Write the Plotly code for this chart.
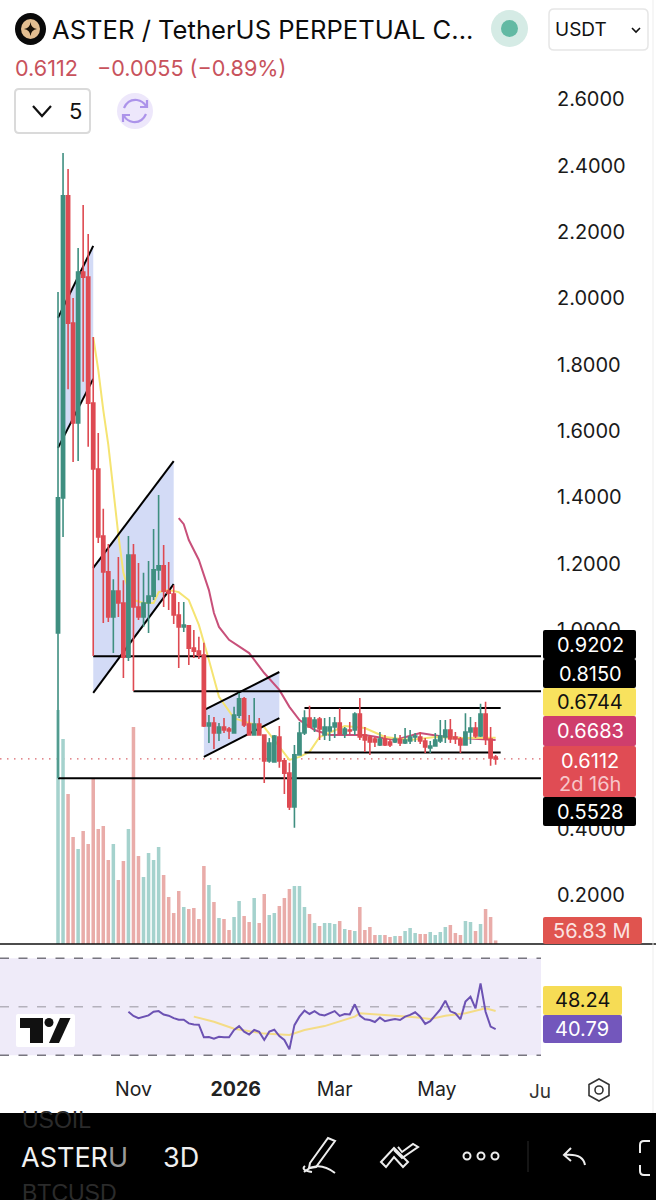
import pandas as pd
import plotly.graph_objects as go

W, H = 656, 1200

# ---------- data ----------
start_date = "2025-09-17"
bar_count = 88
opens = [.991,1.398,2.309,1.925,1.624,2.079,2.064,1.684,1.485,1.283,1.175,1.039,1.117,1.081,.918,1.226,1.069,1.039,1.081,1.102,
         1.181,1.193,1.117,1.108,1.045,1.009,1.012,.945,.936,.924,.710,.719,.689,.707,.701,.689,.743,.792,.716,.683,
         .716,.683,.605,.602,.677,.605,.568,.466,.623,.689,.734,.707,.731,.683,.695,.707,.719,.686,.698,.698,
         .746,.683,.677,.671,.653,.671,.662,.662,.671,.659,.665,.677,.677,.665,.644,.650,.665,.677,.698,.677,
         .671,.653,.692,.704,.680,.746,.671,.6167]
highs = [2.019,2.438,2.390,2.001,2.152,2.281,2.194,1.883,1.594,1.365,1.259,1.153,1.220,1.150,1.283,1.259,1.202,1.172,1.208,1.304,
         1.407,1.256,1.205,1.135,1.084,1.084,1.015,.9997,.979,.961,.743,.737,.719,.734,.707,.768,.810,.798,.743,.795,
         .734,.683,.674,.683,.710,.614,.599,.653,.722,.758,.771,.737,.737,.734,.737,.737,.764,.707,.722,.752,
         .795,.707,.683,.677,.692,.683,.671,.686,.683,.704,.698,.689,.692,.674,.665,.689,.728,.728,.731,.692,
         .677,.749,.737,.722,.777,.783,.707,.623]
lows = [.553,1.280,1.726,1.506,1.509,1.748,1.552,.921,1.262,1.021,1.024,.930,1.039,.855,.906,.816,1.030,1.009,.991,1.090,
        1.150,1.069,1.060,1.018,.885,.994,.894,.915,.912,.707,.659,.641,.665,.689,.671,.689,.734,.707,.683,.683,
        .683,.538,.599,.599,.584,.505,.457,.403,.623,.683,.704,.692,.668,.668,.665,.674,.683,.674,.686,.683,
        .668,.632,.623,.647,.650,.650,.647,.659,.650,.656,.656,.662,.656,.629,.629,.650,.659,.659,.659,.656,
        .629,.653,.656,.674,.677,.653,.590,.593]
closes = [1.398,2.309,1.925,1.624,2.079,2.064,1.684,1.485,1.280,1.175,1.039,1.117,1.081,.918,1.226,1.069,1.039,1.081,1.102,1.181,
          1.193,1.117,1.111,1.045,1.009,1.015,.945,.936,.924,.710,.719,.689,.707,.698,.695,.743,.792,.713,.683,.716,
          .683,.605,.659,.680,.605,.568,.466,.623,.689,.734,.707,.728,.701,.707,.707,.719,.686,.701,.695,.746,
          .677,.668,.662,.662,.671,.653,.653,.671,.659,.668,.677,.680,.665,.647,.650,.668,.680,.698,.671,.671,
          .653,.692,.704,.680,.746,.671,.614,.6112]
volumes_m = [3744,3280,2400,1712,1520,1808,1600,2656,1840,1888,1344,1600,1024,1328,1840,3472,1408,1072,1456,1344,
             1552,1104,752,496,848,592,560,576,400,1248,944,672,416,400,224,432,688,448,352,736,
             336,800,464,496,608,736,880,928,928,592,480,336,288,336,336,320,368,240,224,208,
             592,224,272,144,144,144,112,128,128,208,256,176,160,160,192,144,192,272,304,176,
             144,368,352,208,320,560,432,56.83]

ema_fast_idx = [7,8,9,10,11,12,13,14,15,17,19,20,22,24,26,28,30,32,35,38,41,43,46,48,50,52,57,61,65,70,75,80,87]
ema_fast = [1.883,1.784,1.663,1.558,1.422,1.286,1.172,1.120,1.090,1.081,1.081,1.114,1.120,1.114,1.090,1.015,.909,.798,.734,.719,
            .707,.668,.608,.617,.632,.677,.710,.704,.677,.668,.677,.674,.6744]
ema_slow_idx = [24,25,26,28,30,31,32,34,38,41,44,46,48,51,54,61,67,72,77,80,87]
ema_slow = [1.337,1.319,1.271,1.211,1.120,1.051,1.009,.970,.930,.870,.819,.768,.728,.698,.683,.683,.668,.689,.677,.674,.6683]

rsi_start = 14
rsi_values = [47.9,46.2,45.3,45.9,46.4,47.9,48.2,46.8,46.3,45.3,44.6,44.6,43.1,42.7,42.6,37.4,37.5,36.8,37.6,37.4,
              37.4,40.4,42.0,39.7,38.5,40.4,39.6,36.3,39.7,40.5,37.9,36.3,32.4,42.4,45.9,48.4,47.0,48.2,46.8,46.4,
              47.3,48.2,46.2,47.0,46.8,51.0,46.3,44.8,44.5,43.7,45.5,44.0,44.5,44.9,44.5,45.9,46.6,47.7,45.9,42.9,
              44.0,46.6,48.9,52.5,48.1,47.3,44.8,52.1,54.1,49.3,59.6,47.9,41.8,40.79]
rsi_ma_idx = [27,31,35,39,41,46,49,53,56,59,60,63,67,71,74,77,81,85,87]
rsi_ma = [45.9,43.8,40.9,39.7,38.9,38.3,40.4,42.0,44.1,45.9,47.3,47.0,46.3,45.6,44.9,46.3,47.3,49.3,48.24]

# channels: (left bar, right bar, upper-left, upper-right, lower-left, lower-right)
channels = [(0,7,1.941,2.158,1.549,1.757),(7,23,1.187,1.509,.810,1.138),(29,44,.758,.873,.617,.734)]
level_lines = [(7,.9202),(15,.8150),(0,.5528)]
range_lines = [(49,.7645),(49,.630)]
range_end_bar = 88
last_price = .6112

price_ticks = [.2,.4,.6,.8,1.0,1.2,1.4,1.6,1.8,2.0,2.2,2.4,2.6]
date_ticks = ["2025-11-01","2026-01-01","2026-03-01","2026-05-01"]
date_labels = ["Nov","<b>2026</b>","Mar","May"]

# ---------- colours ----------
TEAL, RED = "#3F8F80", "#DE4A52"
VOL_T, VOL_R = "#A5D2CD", "#E9ACA9"
FILL = "#D3DBF6"
YEL, PINK, PUR = "#F6E36B", "#C8436E", "#6C52B3"

FONT = "Inter"
PLOT_R = 541 / W


def fx(x):
    return x / W


def fy(y):
    return 1 - y / H


def path(*cmds):
    out = []
    for c in cmds:
        letter, *vals = c
        pts = [f"{fx(vals[i]):.5f},{fy(vals[i+1]):.5f}" for i in range(0, len(vals), 2)]
        out.append(letter + " ".join(pts))
    return " ".join(out)


def rrect(x0, y0, x1, y1, r=3):
    return path(("M", x0 + r, y0), ("L", x1 - r, y0), ("Q", x1, y0, x1, y0 + r), ("L", x1, y1 - r),
                ("Q", x1, y1, x1 - r, y1), ("L", x0 + r, y1), ("Q", x0, y1, x0, y1 - r), ("L", x0, y0 + r),
                ("Q", x0, y0, x0 + r, y0), ("Z",))


shapes, annots = [], []


def sh_path(d, fill="rgba(0,0,0,0)", line="rgba(0,0,0,0)", w=0):
    shapes.append(dict(type="path", xref="paper", yref="paper", path=d, fillcolor=fill,
                       line=dict(color=line, width=w), layer="above"))


def sh_ell(x0, y0, x1, y1, fill="rgba(0,0,0,0)", line="rgba(0,0,0,0)", w=0):
    shapes.append(dict(type="circle", xref="paper", yref="paper", x0=fx(x0), x1=fx(x1), y0=fy(y0), y1=fy(y1),
                       fillcolor=fill, line=dict(color=line, width=w), layer="above"))


def txt(x, y, s, size=20, color="#000", anchor="left", family=FONT):
    annots.append(dict(xref="paper", yref="paper", x=fx(x), y=fy(y), text=s, showarrow=False, xanchor=anchor,
                       yanchor="middle", font=dict(size=size, color=color, family=family), borderpad=0, borderwidth=0))


# ---------- chart ----------
dates = pd.date_range(start_date, periods=bar_count, freq="3D")
base = pd.Timestamp(start_date)
day = lambda i: base + pd.Timedelta(days=3 * i)
x_lo = base + pd.Timedelta(days=-34.6)
x_hi = base + pd.Timedelta(days=288.06)
y_lo, y_hi = (961.5 - 944) / 331.6, (961.5 - 60) / 331.6

fig = go.Figure()

# layer order: volume, then drawings and averages, then candles on top
vol_colors = [VOL_T if c >= o else VOL_R for o, c in zip(opens, closes)]
fig.add_trace(go.Bar(x=dates, y=volumes_m, marker=dict(color=vol_colors, line=dict(width=0)), xaxis="x", yaxis="y2"))

for l, r, ul, ur, ll, lr in channels:
    fig.add_trace(go.Scatter(x=[day(l), day(r), day(r), day(l), day(l)], y=[ul, ur, lr, ll, ul], mode="lines",
                             fill="toself", fillcolor=FILL, line=dict(width=0), xaxis="x", yaxis="y3", hoverinfo="skip"))

fig.add_trace(go.Scatter(x=[day(i) for i in ema_slow_idx], y=ema_slow, mode="lines", xaxis="x", yaxis="y3",
                         line=dict(color="#C8507A", width=2)))
fig.add_trace(go.Scatter(x=[day(i) for i in ema_fast_idx], y=ema_fast, mode="lines", xaxis="x", yaxis="y3",
                         line=dict(color="#F5E472", width=2)))

for l, r, ul, ur, ll, lr in channels:
    for a, b in ((ul, ur), (ll, lr)):
        fig.add_trace(go.Scatter(x=[day(l), day(r)], y=[a, b], mode="lines", xaxis="x", yaxis="y3",
                                 line=dict(color="#000", width=2)))
for i, p in level_lines:
    fig.add_trace(go.Scatter(x=[day(i), x_hi], y=[p, p], mode="lines", xaxis="x", yaxis="y3",
                             line=dict(color="#000", width=2)))
for i, p in range_lines:
    fig.add_trace(go.Scatter(x=[day(i), day(range_end_bar)], y=[p, p], mode="lines", xaxis="x", yaxis="y3",
                             line=dict(color="#000", width=2)))

fig.add_trace(go.Candlestick(x=dates, open=opens, high=highs, low=lows, close=closes, xaxis="x", yaxis="y5",
                             whiskerwidth=0,
                             increasing=dict(line=dict(color=TEAL, width=1.6), fillcolor=TEAL),
                             decreasing=dict(line=dict(color=RED, width=1.6), fillcolor=RED)))

fig.add_trace(go.Scatter(x=[day(i) for i in rsi_ma_idx], y=rsi_ma, mode="lines", xaxis="x", yaxis="y4",
                         line=dict(color="#F4DC86", width=2)))
fig.add_trace(go.Scatter(x=[day(rsi_start + i) for i in range(len(rsi_values))], y=rsi_values, mode="lines",
                         xaxis="x", yaxis="y4", line=dict(color=PUR, width=2)))

# RSI pane furniture
shapes.append(dict(type="rect", xref="paper", yref="y4", x0=0, x1=PLOT_R, y0=30, y1=70, fillcolor="#EFEBF9",
                   line=dict(width=0), layer="below"))
for v, c in ((70, "#77757F"), (50, "#B4B1BC"), (30, "#77757F")):
    shapes.append(dict(type="line", xref="paper", yref="y4", x0=0, x1=PLOT_R, y0=v, y1=v, layer="below",
                       line=dict(color=c, width=1.5, dash="9px,9.5px")))
# last price dotted line
shapes.append(dict(type="line", xref="paper", yref="y", x0=0, x1=PLOT_R, y0=last_price, y1=last_price, layer="below",
                   line=dict(color="#D9646A", width=1.2, dash="1.5px,5.5px")))
# pane divider
shapes.append(dict(type="line", xref="paper", yref="paper", x0=0, x1=1, y0=fy(944), y1=fy(944), layer="above",
                   line=dict(color="#111", width=1.5)))
# right edge
shapes.append(dict(type="line", xref="paper", yref="paper", x0=fx(653), x1=fx(653), y0=fy(0), y1=fy(1113), layer="above",
                   line=dict(color="#EDEDED", width=1)))

# ---------- price labels ----------
LX0, LX1, LC = 543, 636, 590
for y0, y1, col in ((630, 659, "#000"), (659, 688, "#000"), (688, 716, "#F8E25E"), (716, 746, "#CF3E6C"),
                    (746, 797, "#E04C54"), (797, 826, "#000")):
    sh_path(rrect(LX0, y0, LX1, y1, 2), fill=col)
for y, s, c in ((645, "0.9202", "#fff"), (674, "0.8150", "#fff"), (702, "0.6744", "#111"), (731, "0.6683", "#fff"),
                (761, "0.6112", "#fff"), (784, "2d 16h", "#F7C6C9"), (812, "0.5528", "#fff")):
    txt(LC, y, s, 20, c, "center")

sh_path(rrect(543, 917, 642, 944, 2), fill="#E0544F")
txt(592, 931, "56.83 M", 20, "#FBE3E1", "center")
sh_path(rrect(543, 986, 622, 1015, 2), fill="#F6DC55")
txt(582, 1000, "48.24", 20, "#111", "center")
sh_path(rrect(543, 1015, 622, 1043, 2), fill="#7357BC")
txt(582, 1029, "40.79", 20, "#fff", "center")

# ---------- TradingView logo ----------
sh_path(rrect(16, 1014, 75, 1047, 2), fill="#fff")
sh_path(path(("M", 20, 1018), ("L", 43, 1018), ("L", 43, 1043), ("L", 30, 1043), ("L", 30, 1028), ("L", 20, 1028), ("Z",)),
        fill="#111")
sh_ell(44.5, 1018, 53.5, 1027, fill="#111")
sh_path(path(("M", 60, 1018), ("L", 70.5, 1018), ("L", 59, 1043), ("L", 49, 1043), ("Z",)), fill="#111")

# ---------- header ----------
sh_ell(15, 13, 46, 45, fill="#0A0A0A")
sh_ell(21, 19, 40, 39, fill="#E3BE91")
sh_path(path(("M", 30.5, 22), ("Q", 31, 28, 37, 29), ("Q", 31, 30, 30.5, 36), ("Q", 30, 30, 24, 29), ("Q", 30, 28, 30.5, 22), ("Z",)),
        fill="#1A1208")
txt(52, 29, "ASTER / TetherUS PERPETUAL C...", 25.6, "#0C0C0C")
sh_ell(491, 10, 528, 47, fill="#D5EBE5")
sh_ell(501, 20, 518, 37, fill="#62B9A3")
sh_path(rrect(549, 9, 648, 50, 5), fill="#fff", line="#E6E6E6", w=1.5)
txt(555, 29, "USDT", 19, "#111")
sh_path(path(("M", 632, 28), ("L", 636, 32), ("L", 640, 28)), line="#111", w=1.6)
txt(15, 68, "0.6112", 21.6, "#C8525C")
txt(97, 68, "\u22120.0055 (\u22120.89%)", 21.6, "#C8525C")
sh_path(rrect(15, 89, 90, 133, 4), fill="#fff", line="#DADADA", w=2)
sh_path(path(("M", 33, 106), ("L", 42, 116), ("L", 51, 106)), line="#111", w=2.2)
txt(75, 111, "5", 22, "#111", "center")
sh_ell(117, 93, 153, 129, fill="#EDE7FB")
sh_path(path(("M", 124, 108), ("Q", 128, 99, 137, 100), ("Q", 143, 101, 146, 106)), line="#AC93EA", w=2.2)
sh_path(path(("M", 146, 114), ("Q", 142, 123, 133, 122), ("Q", 127, 121, 124, 116)), line="#AC93EA", w=2.2)
sh_path(path(("M", 147, 100), ("L", 147, 107), ("L", 140, 107)), line="#AC93EA", w=2.2)
sh_path(path(("M", 123, 122), ("L", 123, 115), ("L", 130, 115)), line="#AC93EA", w=2.2)

# ---------- x axis extras ----------
txt(529, 1091, "Ju", 19, "#333")
sh_path(path(("M", 599, 1079), ("L", 609, 1084.5), ("L", 609, 1095.5), ("L", 599, 1101), ("L", 589, 1095.5), ("L", 589, 1084.5), ("Z",)),
        line="#333", w=1.6)
sh_ell(595, 1086, 603, 1094, line="#333", w=1.6)

# ---------- bottom bar ----------
shapes.append(dict(type="rect", xref="paper", yref="paper", x0=0, x1=1, y0=0, y1=fy(1113), fillcolor="#000",
                   line=dict(width=0), layer="above"))
txt(22, 1120, "USOIL", 23, "#2B2B2B", family="Liberation Sans")
txt(21, 1157, 'ASTER<span style="color:#9A9A9A">U</span>', 27, "#F2F2F2")
txt(22, 1193, "BTCUSD", 23, "#2B2B2B", family="Liberation Sans")
txt(163, 1157, "3D", 27, "#EFEFEF")
ICON = "#EDEDED"
sh_path(path(("M", 310, 1163), ("L", 328, 1138), ("L", 335, 1141), ("L", 316, 1167), ("L", 309, 1168), ("Z",)), line=ICON, w=2)
sh_path(path(("M", 312, 1172), ("Q", 300, 1170, 305, 1166), ("M", 304, 1172), ("Q", 318, 1160, 335, 1173)), line=ICON, w=2)
sh_path(path(("M", 381, 1162), ("L", 394, 1148), ("L", 408, 1162), ("L", 403, 1167), ("L", 394, 1157), ("L", 386, 1167), ("Z",)), line=ICON, w=2)
sh_path(path(("M", 394, 1150), ("L", 402, 1158), ("L", 418, 1147), ("L", 413, 1144), ("L", 402, 1152), ("L", 398, 1147)), line=ICON, w=2)
for cx in (467, 481, 495):
    sh_ell(cx - 3.5, 1152.5, cx + 3.5, 1159.5, line=ICON, w=2)
shapes.append(dict(type="line", xref="paper", yref="paper", x0=fx(528), x1=fx(528), y0=fy(1141), y1=fy(1172), layer="above",
                   line=dict(color="#2A2A2A", width=1)))
sh_path(path(("M", 571, 1148), ("L", 564, 1155), ("L", 571, 1161), ("M", 564, 1155), ("Q", 583, 1153, 585, 1165)), line=ICON, w=2)
sh_path(path(("M", 650, 1141), ("L", 644, 1141), ("Q", 640, 1141, 640, 1145), ("L", 640, 1153), ("M", 640, 1165),
             ("L", 640, 1171), ("Q", 640, 1175, 644, 1175), ("L", 650, 1175)), line=ICON, w=2)

fig.update_layout(
    width=W, height=H, margin=dict(l=0, r=0, t=0, b=0), paper_bgcolor="#fff", plot_bgcolor="rgba(0,0,0,0)",
    showlegend=False, bargap=0.3, boxgap=0.1, shapes=shapes, annotations=annots, hovermode=False,
    font=dict(family=FONT),
    xaxis=dict(domain=[0, PLOT_R], range=[x_lo, x_hi], anchor="y4", type="date", tickmode="array", tickvals=date_ticks,
               ticktext=date_labels, tickfont=dict(size=19.5, color="#222"), showgrid=False, zeroline=False, showline=False,
               ticks="", rangeslider=dict(visible=False)),
    yaxis=dict(domain=[fy(944), fy(60)], range=[y_lo, y_hi], side="right", anchor="x", tickmode="array", tickvals=price_ticks,
               ticktext=[f"{t:.4f}" for t in price_ticks], tickfont=dict(size=20, color="#1A1A1A"), showgrid=False,
               zeroline=False, showline=False, ticks="outside", ticklen=11, tickcolor="rgba(0,0,0,0)"),
    yaxis2=dict(overlaying="y", range=[0, 884 * 16], visible=False, anchor="x"),
    yaxis3=dict(overlaying="y", range=[y_lo, y_hi], visible=False, anchor="x"),
    yaxis5=dict(overlaying="y", range=[y_lo, y_hi], visible=False, anchor="x"),
    yaxis4=dict(domain=[fy(1075), fy(945)], range=[50 - 68.3 / 2.425, 50 + 61.7 / 2.425], visible=False, anchor="x"),
)

fig.write_html("out.html", config=dict(displayModeBar=False, staticPlot=True),
               post_script="document.body.style.margin='0';document.body.style.background='#fff';")
